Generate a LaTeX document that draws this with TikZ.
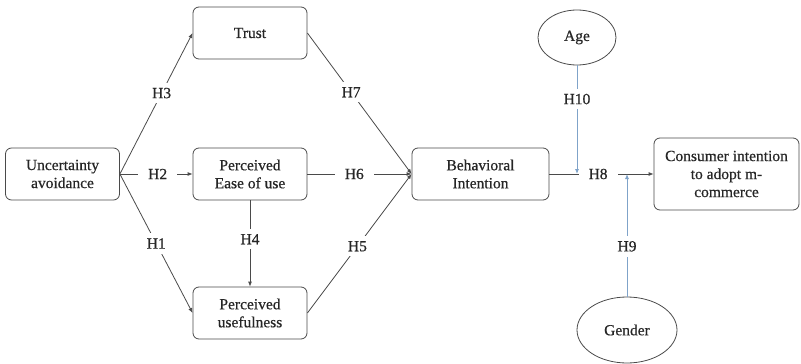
\documentclass[tikz,border=0pt]{standalone}
\usepackage{fontspec}
\setmainfont[FakeBold=0.6]{Liberation Serif}
\usetikzlibrary{arrows.meta,shapes.geometric}
\definecolor{lc}{HTML}{4A4A4A}
\definecolor{bc}{HTML}{7FA3C9}
\definecolor{tc}{HTML}{262626}
\begin{document}
\begin{tikzpicture}[x=1pt,y=-1pt,
  txt/.style={font=\fontsize{15.5}{18}\selectfont, text=tc},
  box/.style={txt, draw=lc, line width=0.8pt, rounded corners=6pt, minimum width=114pt, minimum height=52pt, align=center, inner sep=0pt},
  ell/.style={txt, draw=lc, line width=0.8pt, ellipse, inner sep=0pt},
  conn/.style={draw=lc, line width=0.8pt},
  arr/.style={conn, -{Latex[length=5pt,width=4pt]}},
  barr/.style={draw=bc, line width=0.8pt, -{Latex[length=5pt,width=4pt]}},
  lab/.style={txt, fill=white, inner xsep=10pt, inner ysep=5pt}]
\useasboundingbox (0,0) rectangle (801,364);
\node[box] (ua) at (62.5,174) {Uncertainty\\avoidance};
\node[box] (tr) at (250,33) {Trust};
\node[box] (pe) at (250,174) {Perceived\\Ease of use};
\node[box] (pu) at (250,313) {Perceived\\usefulness};
\node[box, minimum width=137pt] (bi) at (480.5,174) {Behavioral\\Intention};
\node[box, minimum width=145pt, minimum height=72pt] (ci) at (726.5,174) {Consumer intention\\to adopt m-\\commerce};
\node[ell, minimum width=78pt, minimum height=55pt] (age) at (577,37.5) {Age};
\node[ell, minimum width=100pt, minimum height=66pt] (gen) at (627,330) {Gender};
\coordinate (ma) at (age.south |- bi.east);
\coordinate (mg) at (gen.north |- bi.east);
\draw[arr] (ua.east) -- node[lab,pos=0.574]{H3} (tr.west);
\draw[arr] (ua.east) -- node[lab,pos=0.52]{H2} (pe.west);
\draw[arr] (ua.east) -- node[lab,pos=0.5]{H1} (pu.west);
\draw[arr] (pe.south) -- node[lab,pos=0.45]{H4} (pu.north);
\draw[arr] (tr.east) -- node[lab,pos=0.42]{H7} (bi.west);
\draw[arr] (pe.east) -- node[lab,pos=0.45]{H6} (bi.west);
\draw[arr] (pu.east) -- node[lab,pos=0.48]{H5} (bi.west);
\draw[arr] (bi.east) -- node[lab,pos=0.467]{H8} (ci.west);
\draw[barr] (age.south) -- node[lab,pos=0.31]{H10} (ma);
\draw[barr] (gen.north) -- node[lab,pos=0.41]{H9} (mg);
\end{tikzpicture}
\end{document}
